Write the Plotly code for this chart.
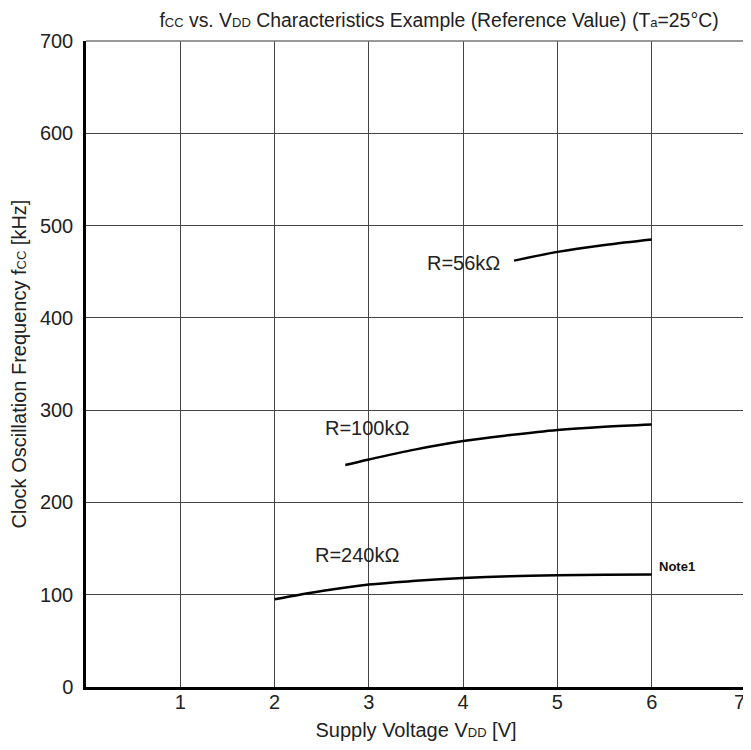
import plotly.graph_objects as go

# Data
v_56k = [4.54, 5.0, 5.5, 6.0]
f_56k = [462, 471.5, 479, 485]
v_100k = [2.75, 3.0, 3.5, 4.0, 4.5, 5.0, 5.5, 6.0]
f_100k = [240.5, 246.5, 257.5, 266.5, 273, 278.5, 282, 284.5]
v_240k = [2.0, 2.5, 3.0, 3.5, 4.0, 4.5, 5.0, 5.5, 6.0]
f_240k = [95, 104, 111, 115, 118, 120, 121, 121.5, 122]

labels = [("R=56k\u03a9", 4.0, 459), ("R=100k\u03a9", 2.98, 281), ("R=240k\u03a9", 2.87, 143)]
note = ("<b>Note1</b>", 6.27, 131)

x_ticks = [1, 2, 3, 4, 5, 6, 7]
y_ticks = [0, 100, 200, 300, 400, 500, 600, 700]

FONT = "Liberation Sans, Arial, Helvetica, sans-serif"
SM = "<span style='font-size:13px'>{}</span>"

W, H = 743, 742  # page body has an 8px margin

fig = go.Figure()
for xs, ys in [(v_56k, f_56k), (v_100k, f_100k), (v_240k, f_240k)]:
    fig.add_trace(go.Scatter(x=xs, y=ys, mode="lines",
                             line=dict(color="black", width=2.5, shape="spline"),
                             showlegend=False, hoverinfo="skip"))

for t, x, y in labels:
    fig.add_annotation(x=x, y=y, text=t, showarrow=False,
                       font=dict(size=20, color="#222", family=FONT))
fig.add_annotation(x=note[1], y=note[2], text=note[0], showarrow=False,
                   font=dict(size=13, color="#111", family=FONT))

# last x tick label sits at the very edge of the page: draw it as right-anchored text
last_tick = x_ticks[-1]
fig.add_annotation(x=last_tick, y=0, xref="x", yref="y", text=str(last_tick),
                   showarrow=False, xanchor="right", yanchor="top", xshift=1, yshift=-2,
                   font=dict(size=20, color="#222", family=FONT))

# top and right frame (gray)
fig.add_shape(type="line", xref="paper", yref="paper", x0=0, x1=1, y0=1, y1=1,
              line=dict(color="#777", width=1.5))
fig.add_shape(type="line", xref="paper", yref="paper", x0=1, x1=1, y0=0, y1=1,
              line=dict(color="#777", width=1.5))

fig.update_layout(
    width=W, height=H,
    margin=dict(l=78, r=5, t=33, b=63),
    plot_bgcolor="white", paper_bgcolor="white",
    font=dict(family=FONT, color="#222"),
    title=dict(text="f" + SM.format("CC") + " vs. V" + SM.format("DD")
               + " Characteristics Example (Reference Value) (T" + SM.format("a") + "=25°C)",
               x=((160 + 718) / 2 - 8) / W, xanchor="center", xref="container",
               y=1 - 12 / H, yanchor="middle",
               font=dict(size=19.4, color="#222", family=FONT)),
    xaxis=dict(range=[0, 7], tickvals=x_ticks,
               ticktext=[str(v) for v in x_ticks[:-1]] + [""],
               showgrid=True, gridcolor="#444", gridwidth=1,
               showline=True, linecolor="black", linewidth=2.5,
               zeroline=False, ticks="", tickfont=dict(size=20), automargin=False,
               ticklabelstandoff=-5,
               title=dict(text="Supply Voltage V" + SM.format("DD") + " [V]",
                          font=dict(size=20), standoff=12)),
    yaxis=dict(range=[0, 700], tickvals=y_ticks,
               showgrid=True, gridcolor="#444", gridwidth=1,
               showline=True, linecolor="black", linewidth=2.5,
               zeroline=False, ticks="", tickfont=dict(size=20), automargin=False,
               ticklabelstandoff=6,
               title=dict(text="Clock Oscillation Frequency f" + SM.format("CC") + " [kHz]",
                          font=dict(size=20), standoff=10)),
)

fig.write_html("out.html")
